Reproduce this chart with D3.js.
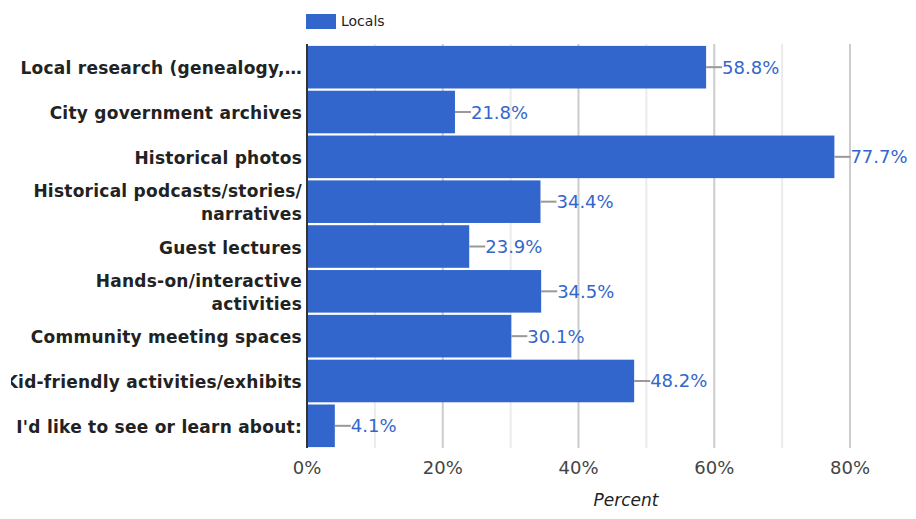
<!DOCTYPE html>
<head>
    <meta charset="utf-8">
    <script src="https://cdnjs.cloudflare.com/ajax/libs/d3/7.9.0/d3.js"></script>
    <style>
        body { margin: 0; background: #fff; }
        text { font-family: "DejaVu Sans", sans-serif; }
    </style>
</head>
<body>
    <div id="chart"></div>
</body>
<script>

// data

const categories = [
    ["Local research (genealogy,\u2026"],
    ["City government archives"],
    ["Historical photos"],
    ["Historical podcasts/stories/", "narratives"],
    ["Guest lectures"],
    ["Hands-on/interactive", "activities"],
    ["Community meeting spaces"],
    ["Kid-friendly activities/exhibits"],
    ["I'd like to see or learn about:"]
]
const locals = [58.8, 21.8, 77.7, 34.4, 23.9, 34.5, 30.1, 48.2, 4.1]
const majorTicks = [0, 20, 40, 60, 80]
const minorTicks = [10, 30, 50, 70]
const seriesName = "Locals"
const axisTitle = "Percent"

const W = 916, H = 519
const margin = {top: 45, left: 307, bottom: 71}

const svg = d3.select("#chart")
    .append("svg")
    .attr("width", W)
    .attr("height", H)

// x scale: 0..94 so the plot runs a bit past the window edge
const x = d3.scaleLinear()
    .domain([0, 94])
    .range([margin.left, margin.left + 94 * 6.7875])

const y = d3.scaleBand()
    .domain(d3.range(categories.length))
    .range([margin.top, H - margin.bottom])
    .paddingInner(0.05)
    .paddingOuter(0.02)

const blue = "#3366cc"

// gridlines
svg.append("g").selectAll("line")
    .data(minorTicks)
    .join("line")
    .attr("x1", d => x(d)).attr("x2", d => x(d))
    .attr("y1", margin.top - 1).attr("y2", H - margin.bottom)
    .attr("stroke", "#ebebeb").attr("stroke-width", 2)

svg.append("g").selectAll("line")
    .data(majorTicks.slice(1))
    .join("line")
    .attr("x1", d => x(d)).attr("x2", d => x(d))
    .attr("y1", margin.top - 1).attr("y2", H - margin.bottom)
    .attr("stroke", "#cccccc").attr("stroke-width", 2)

// bars
svg.append("g").selectAll("rect")
    .data(locals)
    .join("rect")
    .attr("x", x(0))
    .attr("y", (d, i) => y(i))
    .attr("width", d => x(d) - x(0))
    .attr("height", y.bandwidth())
    .attr("fill", blue)

// leader lines + value labels
const lab = svg.append("g").selectAll("g")
    .data(locals)
    .join("g")
    .attr("transform", (d, i) => `translate(${x(d)},${y(i) + y.bandwidth() / 2})`)

lab.append("line")
    .attr("x1", 0).attr("x2", 16)
    .attr("stroke", "#999").attr("stroke-width", 2)

lab.append("text")
    .attr("x", 16)
    .attr("dy", "0.36em")
    .attr("font-size", 18)
    .attr("fill", blue)
    .text(d => d.toFixed(1) + "%")

// left axis line
svg.append("line")
    .attr("x1", x(0)).attr("x2", x(0))
    .attr("y1", margin.top - 1).attr("y2", H - margin.bottom)
    .attr("stroke", "#333").attr("stroke-width", 2)

// category labels, clipped at the left like the original
svg.append("clipPath").attr("id", "labclip")
    .append("rect").attr("x", 11).attr("y", 0).attr("width", 300).attr("height", H)

const cat = svg.append("g")
    .attr("clip-path", "url(#labclip)")
    .selectAll("text")
    .data(categories)
    .join("text")
    .attr("text-anchor", "end")
    .attr("font-size", 17)
    .attr("font-weight", "bold")
    .attr("letter-spacing", 0.25)
    .attr("fill", "#222")
    .attr("transform", (d, i) => `translate(${x(0) - 5},${y(i) + y.bandwidth() / 2 + 1})`)

cat.selectAll("tspan")
    .data(d => d.map((s, j) => ({s, j, n: d.length})))
    .join("tspan")
    .attr("x", 0)
    .attr("y", d => (d.j - (d.n - 1) / 2) * 23)
    .attr("dy", "0.36em")
    .text(d => d.s)

// x tick labels
svg.append("g").selectAll("text")
    .data(majorTicks)
    .join("text")
    .attr("x", d => x(d))
    .attr("y", 474)
    .attr("text-anchor", "middle")
    .attr("font-size", 18)
    .attr("fill", "#444")
    .text(d => d + "%")

// axis title
svg.append("text")
    .attr("x", (x.range()[0] + x.range()[1]) / 2)
    .attr("y", 506)
    .attr("text-anchor", "middle")
    .attr("font-size", 17)
    .attr("font-style", "italic")
    .attr("fill", "#222")
    .text(axisTitle)

// legend
svg.append("rect")
    .attr("x", 306).attr("y", 14)
    .attr("width", 30).attr("height", 15)
    .attr("fill", blue)

svg.append("text")
    .attr("x", 341).attr("y", 21)
    .attr("dy", "0.36em")
    .attr("font-size", 14)
    .attr("fill", "#222")
    .text(seriesName)

</script>
